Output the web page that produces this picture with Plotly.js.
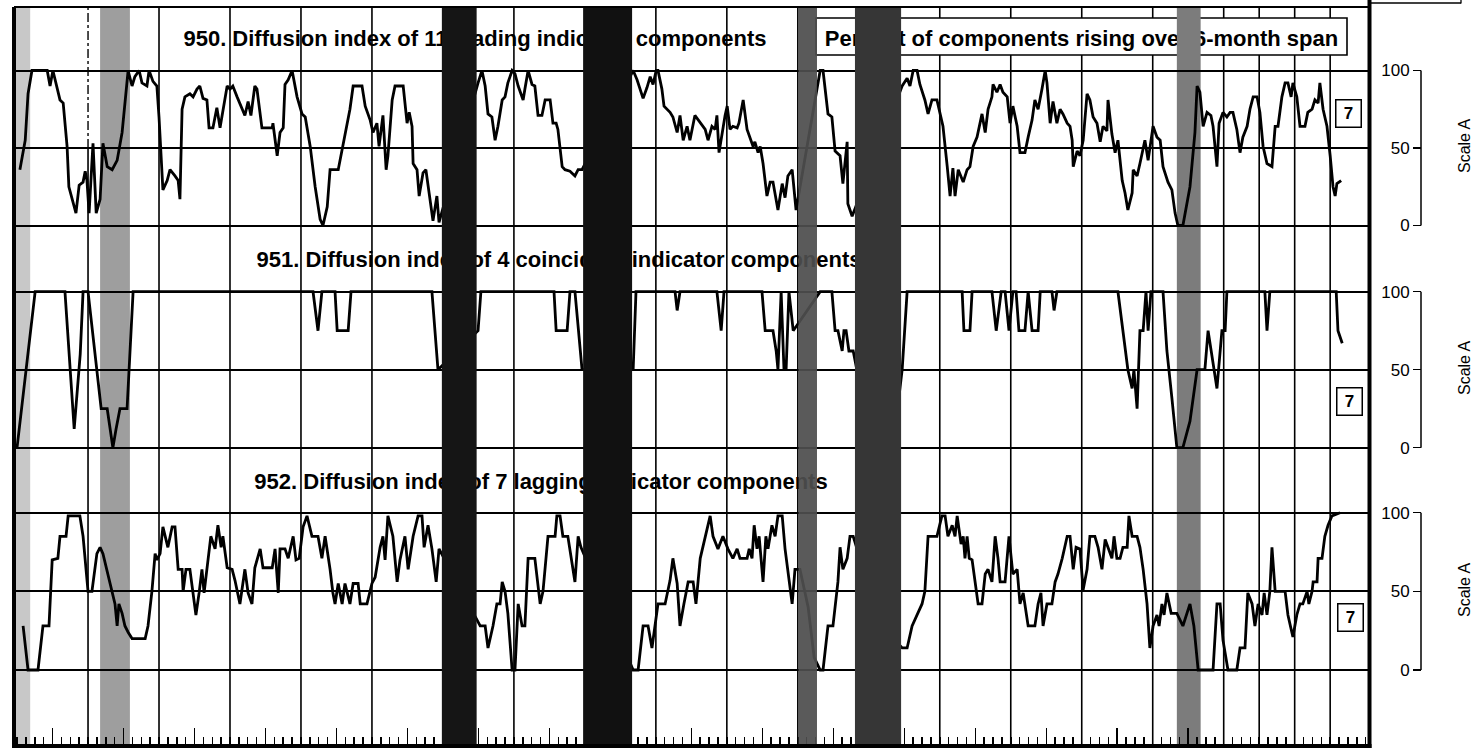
<!DOCTYPE html>
<html><head><meta charset="utf-8">
<script src="https://cdn.plot.ly/plotly-3.0.1.min.js"></script>
<style>html,body{margin:0;padding:0;background:#fff;}#chart{width:1476px;height:752px;}</style>
</head><body><div id="chart"></div>
<script>
// ---------------- DATA (x = decimal years) ----------------
const leadingYears = [
1958.08,1958.23,1958.31,1958.42,1958.85,1958.93,
1959.01,1959.13,1959.21,1959.30,1959.41,1959.46,1959.55,1959.66,1959.75,1959.86,1959.92,1959.97,
1960.03,1960.11,1960.14,1960.23,1960.34,1960.42,1960.54,1960.68,1960.82,1960.96,
1961.07,1961.13,1961.24,1961.32,1961.44,1961.52,1961.66,1961.72,1961.83,1961.94,
1962.00,1962.11,1962.23,1962.31,1962.45,1962.54,1962.59,1962.65,1962.73,1962.87,1962.96,
1963.07,1963.15,1963.24,1963.35,1963.41,1963.52,1963.63,1963.72,1963.80,1963.92,
1964.00,1964.08,1964.20,1964.34,1964.42,1964.51,1964.59,1964.70,1964.76,1964.90,
1965.05,1965.19,1965.21,1965.33,1965.41,1965.50,1965.55,1965.64,1965.75,1965.89,
1966.03,1966.12,1966.26,1966.40,1966.54,1966.62,1966.74,1966.82,
1967.05,1967.16,1967.30,1967.38,1967.47,1967.72,1967.81,1967.95,
1968.03,1968.14,1968.20,1968.31,1968.40,1968.45,1968.57,1968.65,1968.88,1968.99,
1969.05,1969.13,1969.16,1969.27,1969.33,1969.44,1969.52,1969.64,1969.72,1969.83,1969.89,
1970.99,1971.10,1971.19,1971.27,1971.38,1971.47,1971.55,1971.67,1971.75,1971.83,1971.95,
1972.03,1972.12,1972.26,1972.31,1972.40,1972.51,1972.59,1972.68,1972.79,1972.88,
1973.02,1973.10,1973.19,1973.24,1973.36,1973.44,1973.58,1973.72,1973.81,1973.92,
1975.36,1975.47,1975.56,1975.64,1975.75,1975.84,1975.92,
1976.01,1976.06,1976.17,1976.23,1976.40,1976.48,1976.60,1976.68,1976.77,1976.88,1976.96,
1977.10,1977.25,1977.39,1977.47,1977.58,1977.67,1977.72,1977.78,1977.87,1977.95,
1978.01,1978.09,1978.17,1978.29,1978.34,1978.46,1978.57,1978.65,1978.74,1978.79,1978.88,1978.94,
1979.02,1979.13,1979.22,1979.30,1979.44,1979.56,1979.64,1979.72,1979.84,1979.95,
1980.63,1980.71,1980.85,1980.96,
1981.05,1981.19,1981.27,1981.39,1981.41,1981.53,
1982.94,1983.08,1983.16,1983.25,1983.36,1983.44,1983.58,1983.67,1983.78,1983.92,
1984.01,1984.09,1984.21,1984.29,1984.37,1984.43,1984.52,1984.66,1984.77,1984.85,1984.94,
1985.05,1985.19,1985.28,1985.36,1985.47,1985.50,1985.61,1985.70,1985.78,1985.90,1985.98,
1986.06,1986.18,1986.26,1986.40,1986.49,1986.60,1986.68,1986.77,1986.88,1986.97,
1987.02,1987.11,1987.19,1987.30,1987.39,1987.47,1987.59,1987.67,1987.73,1987.76,1987.87,1987.95,
1988.04,1988.15,1988.23,1988.32,1988.43,1988.52,1988.60,1988.71,1988.74,1988.85,1988.94,
1989.02,1989.14,1989.22,1989.30,1989.42,1989.45,1989.56,1989.64,1989.78,1989.87,1989.92,
1990.01,1990.12,1990.21,1990.29,1990.43,1990.54,1990.63,1990.71,1990.85,
1991.05,1991.19,1991.25,1991.33,1991.42,1991.53,1991.64,1991.70,1991.81,1991.87,1991.98,
1992.09,1992.18,1992.26,1992.37,1992.46,1992.54,1992.66,1992.74,1992.83,1992.94,
1993.02,1993.11,1993.22,1993.36,1993.45,1993.53,1993.64,1993.73,1993.81,1993.90,1993.95,
1994.06,1994.15,1994.29,1994.37,1994.49,1994.57,1994.66,1994.71,1994.80,1994.91,
1995.00,1995.08,1995.14,1995.19,1995.31];
const leadingValues = [
36,55,85,100,100,90,
100,88,81,79,51,25,17,8,26,28,35,29,
8,40,53,8,17,53,38,36,42,60,
85,100,90,96,100,92,90,100,93,90,
70,23,29,36,32,29,17,75,83,85,83,
88,90,82,81,63,63,76,63,75,90,
88,90,83,75,71,80,71,90,88,63,
63,63,66,45,60,63,91,94,100,83,
72,70,51,25,4,0,12,36,
36,49,66,75,90,90,77,68,
60,66,51,71,36,45,81,90,90,66,
73,64,40,36,19,34,36,17,3,19,2,
92,100,90,72,70,55,64,81,83,92,100,
98,90,81,88,100,91,90,71,71,81,
81,66,66,62,38,36,35,32,36,36,
100,94,88,82,89,96,91,
100,100,88,77,73,70,60,71,55,64,55,
71,66,62,55,64,62,71,47,60,71,
77,62,64,63,66,81,62,57,51,54,47,51,
40,19,28,28,10,27,18,32,36,10,
100,100,72,70,
48,45,27,54,14,6,
90,95,90,100,100,91,81,72,81,81,
72,64,38,19,37,19,36,28,36,38,51,
57,72,60,75,83,91,86,91,86,83,66,
77,64,47,47,57,68,81,75,88,100,
92,66,80,66,75,72,66,64,55,38,48,45,
55,85,81,70,66,54,64,61,81,59,47,
55,29,21,10,21,36,32,40,55,42,51,
64,57,55,38,28,23,8,0,0,
25,60,90,86,64,73,71,64,38,66,73,
70,73,73,62,47,57,64,75,83,83,
73,51,40,38,64,64,83,92,92,83,92,
83,64,64,73,75,81,79,92,75,64,
45,25,19,27,29];

const coincidentYears = [
1958.00,1958.51,1959.35,1959.61,1959.78,1959.86,
1960.00,1960.25,1960.37,1960.54,1960.62,1960.70,1960.79,1960.90,1961.10,1961.15,1961.27,
1966.34,1966.48,1966.59,1966.96,1967.02,1967.33,1967.41,
1969.69,1969.86,1970.99,1971.07,
1973.13,1973.19,1973.50,1973.58,1973.72,1973.92,1975.36,1975.44,
1976.54,1976.60,1976.68,1977.72,1977.84,1977.92,
1978.99,1979.08,1979.30,1979.39,1979.44,1979.53,1979.61,1979.67,1979.75,1979.87,
1980.63,1980.96,1981.05,1981.13,1981.25,1981.30,1981.36,1981.44,1981.56,
1982.09,1982.68,1982.94,1983.08,1984.63,1984.68,1984.85,1984.91,
1985.47,1985.59,1985.73,1985.84,1985.95,1986.06,1986.15,1986.23,1986.40,1986.49,1986.60,1986.77,1986.83,
1987.16,1987.22,1987.30,
1989.02,1989.16,1989.30,1989.42,1989.47,1989.56,1989.64,1989.73,1989.81,1989.87,1989.95,
1990.29,1990.40,1990.54,1990.68,1990.85,1991.05,1991.25,1991.47,1991.56,1991.81,1991.95,1992.04,1992.09,
1993.16,1993.22,1993.30,1995.17,1995.22,1995.34];
const coincidentValues = [
0,100,100,12,60,100,
100,50,25,25,12,0,12,25,25,50,100,
100,75,100,100,75,75,100,
100,50,75,100,
100,75,75,100,100,50,50,100,
100,88,100,100,75,100,
100,75,75,62,50,100,50,50,100,75,
100,100,75,75,62,75,75,62,62,
0,0,50,100,100,75,75,100,
100,75,100,100,75,100,100,75,75,100,75,75,100,
100,88,100,
100,75,50,38,50,25,75,75,100,75,100,
100,62,32,0,0,17,50,50,75,38,75,75,100,
100,75,100,100,75,67];

const laggingYears = [
1958.17,1958.31,1958.59,1958.73,1958.90,1958.99,
1959.15,1959.21,1959.38,1959.44,1959.77,1959.86,
1960.00,1960.11,1960.25,1960.34,1960.42,1960.62,1960.76,1960.82,1960.87,1960.96,
1961.04,1961.13,1961.24,1961.61,1961.69,1961.80,1961.89,1961.94,
1962.03,1962.11,1962.25,1962.37,1962.45,1962.54,1962.65,1962.68,1962.76,1962.87,1962.96,
1963.04,1963.13,1963.21,1963.27,1963.35,1963.46,1963.58,1963.66,1963.75,1963.80,1963.92,
1964.06,1964.14,1964.28,1964.42,1964.51,1964.62,1964.70,1964.85,1964.93,
1965.07,1965.19,1965.27,1965.36,1965.41,1965.55,1965.64,1965.78,1965.86,1965.95,
1966.06,1966.17,1966.31,1966.48,1966.59,1966.68,1966.82,1966.90,1966.96,
1967.05,1967.16,1967.24,1967.38,1967.47,1967.61,1967.67,1967.86,
1968.00,1968.09,1968.23,1968.31,1968.37,1968.45,1968.59,1968.71,1968.79,1968.93,
1969.02,1969.16,1969.30,1969.41,1969.47,1969.58,1969.69,1969.81,1969.89,
1971.05,1971.19,1971.27,1971.41,1971.52,1971.61,1971.67,1971.75,1971.83,1971.95,
1972.03,1972.12,1972.23,1972.31,1972.40,1972.59,1972.74,1972.82,1972.96,
1973.16,1973.21,1973.30,1973.38,1973.52,1973.72,1973.81,1973.89,
1975.36,1975.50,1975.64,1975.78,1975.89,
1976.06,1976.26,1976.40,1976.48,1976.60,1976.68,1976.79,1976.91,
1977.05,1977.13,1977.25,1977.39,1977.53,1977.61,1977.75,1977.89,
1978.03,1978.17,1978.29,1978.37,1978.57,1978.63,1978.71,1978.77,1978.85,1978.91,
1979.02,1979.10,1979.16,1979.27,1979.36,1979.44,1979.56,1979.64,1979.72,1979.84,1979.92,
1980.06,1980.29,1980.46,1980.63,1980.71,1980.85,1980.99,
1981.13,1981.19,1981.27,1981.39,1981.47,1981.56,1981.75,
1982.09,1982.37,1982.65,1982.94,
1983.08,1983.22,1983.36,1983.50,1983.58,1983.67,1983.92,
1984.06,1984.15,1984.23,1984.35,1984.43,1984.49,1984.60,1984.66,1984.71,1984.77,1984.83,1984.91,1984.99,
1985.08,1985.19,1985.28,1985.36,1985.47,1985.56,1985.64,1985.70,1985.84,1985.95,
1986.06,1986.18,1986.26,1986.35,1986.49,1986.68,1986.77,1986.85,1986.91,
1987.02,1987.16,1987.25,1987.33,1987.45,1987.59,1987.67,1987.76,1987.84,1987.95,
1988.04,1988.15,1988.23,1988.37,1988.46,1988.57,1988.66,1988.74,1988.85,1988.91,1988.99,
1989.08,1989.16,1989.28,1989.33,1989.42,1989.56,1989.64,1989.73,1989.84,1989.92,
1990.01,1990.12,1990.18,1990.26,1990.32,1990.40,1990.52,1990.68,1990.85,
1991.05,1991.16,1991.28,1991.70,1991.81,1991.90,1991.98,
1992.12,1992.37,1992.46,1992.60,1992.68,1992.80,1992.88,1992.97,
1993.08,1993.14,1993.22,1993.30,1993.36,1993.45,1993.73,1993.81,1993.95,
1994.06,1994.15,1994.23,1994.35,1994.40,1994.49,1994.52,1994.63,1994.66,1994.77,1994.85,1994.94,
1995.05,1995.28];
const laggingValues = [
28,0,0,28,28,70,
71,85,85,98,98,85,
50,50,74,78,74,55,42,28,42,36,
28,24,20,20,28,50,74,70,
74,91,78,91,91,64,64,50,64,64,50,
35,49,64,49,64,85,77,92,78,85,65,
64,57,42,64,49,42,65,77,65,
65,65,77,49,77,77,71,85,70,71,
91,98,85,85,71,85,64,49,42,
55,42,55,42,55,55,42,42,
55,59,78,85,70,98,85,56,70,85,
64,85,98,98,78,92,77,56,77,
28,28,14,28,42,42,56,50,36,0,
0,42,28,28,71,71,42,50,85,
85,98,98,85,85,56,85,78,
0,0,28,28,14,
42,42,57,71,55,28,42,56,
56,42,71,85,98,85,77,85,
77,71,77,71,71,77,71,92,77,85,
56,85,77,92,85,98,98,77,64,42,64,
64,40,8,0,0,28,28,
56,78,64,71,85,85,71,
28,28,21,14,
14,28,35,42,50,85,85,
98,98,85,92,85,98,80,85,71,85,71,70,57,
42,42,61,64,56,85,71,56,56,85,
61,64,42,49,28,28,42,49,28,
42,42,56,61,71,85,85,64,78,77,
51,64,85,85,78,64,83,78,71,85,71,
71,78,78,98,85,85,78,64,42,14,
28,35,28,42,35,49,36,36,28,
42,28,0,0,42,42,19,
0,0,14,14,49,42,28,42,
35,49,35,50,78,50,50,35,21,
35,42,42,50,42,50,56,56,71,71,85,92,
98,100];

// recessions (shaded), decimal years
const recessionStart = [1957.60, 1960.34, 1969.97, 1973.95, 1980.02, 1981.61, 1990.68];
const recessionEnd   = [1958.37, 1961.18, 1970.95, 1975.33, 1980.54, 1982.91, 1991.35];

// time-axis marks
const gridYears = [1960,1962,1964,1966,1968,1970,1972,1974,1976,1978,1980,1982,1984,1986,1988,1990,1992,1993,1994,1995];
const yearTickYears = [1959,1961,1963,1965,1967,1969,1971,1973,1975,1977,1979,1981,1983,1985,1987,1989,1991];

// scale labels and texts
const scaleTickVals = [0, 50, 100];
const scaleTickText = ['0', '50', '100'];
const panelTitles = [
  '950. Diffusion index of 11 leading indicator components',
  '951. Diffusion index of 4 coincident indicator components',
  '952. Diffusion index of 7 lagging indicator components'];
const spanLabel = 'Percent of components rising over 6-month span';
const chartNumber = '7';
const scaleLabel = 'Scale A';

// ---------------- LAYOUT / STYLE ----------------
const W = 1476, H = 752;
const px = x => x / W;
const py = y => (H - y) / H;
const FRAME_L = 14, FRAME_R = 1368, FRAME_T = 7, FRAME_B = 745;
const X_RANGE = [1957.914, 1996.066];
const panelZeroPx = [225.5, 447.7, 670];
const panelHundredPx = [70.5, 291.7, 512.7];
const PAD = 2;
const titlePos = [[475, 36], [559, 257], [541, 479]];
const numberBoxPos = [[1348.5, 114], [1349.5, 402], [1350, 617]];
const scaleLabelY = [146, 368, 590];
// shading style per band: colour, drawn over the curve or not, opacity
const shadeStyle = [
  ['#c8c8c8', 'below', 1], ['#9e9e9e', 'below', 1], ['#151515', 'above', 1], ['#111111', 'above', 1],
  ['#4e4e4e', 'above', 0.93], ['#363636', 'above', 1], ['#7c7c7c', 'below', 1]];
const FONT = 'Liberation Sans, Arial, Helvetica, sans-serif';

function panelDomain(i) {
  const u = (panelZeroPx[i] - panelHundredPx[i]) / 100;
  return [py(panelZeroPx[i] + PAD * u), py(panelHundredPx[i] - PAD * u)];
}

const yNames = ['y', 'y2', 'y3'];
const series = [[leadingYears, leadingValues], [coincidentYears, coincidentValues], [laggingYears, laggingValues]];
const traces = series.map((s, i) => ({
  type: 'scatter', mode: 'lines', x: s[0], y: s[1],
  xaxis: 'x', yaxis: yNames[i],
  line: { color: '#000', width: 2.8 },
  hoverinfo: 'skip', showlegend: false
}));

const shapes = [];
// vertical year grid lines
gridYears.forEach(yr => {
  if (yr === 1960) {
    shapes.push({ type: 'line', layer: 'below', xref: 'x', yref: 'paper', x0: yr, x1: yr, y0: py(FRAME_B), y1: py(148), line: { color: '#000', width: 1.6 } });
    shapes.push({ type: 'line', layer: 'below', xref: 'x', yref: 'paper', x0: yr, x1: yr, y0: py(148), y1: py(FRAME_T), line: { color: '#000', width: 1.4, dash: 'dashdot' } });
  } else {
    shapes.push({ type: 'line', layer: 'below', xref: 'x', yref: 'paper', x0: yr, x1: yr, y0: py(FRAME_B), y1: py(FRAME_T), line: { color: '#000', width: 1.6 } });
  }
});
// panel titles (drawn below shading)
panelTitles.forEach((t, i) => {
  const [cx, cy] = titlePos[i];
  shapes.push({ type: 'rect', layer: 'below', xref: 'paper', yref: 'paper',
    x0: px(cx - 330), x1: px(cx + 330), y0: py(cy + 13), y1: py(cy - 13),
    line: { width: 0 }, fillcolor: 'rgba(0,0,0,0)',
    label: { text: '<b>' + t + '</b>', font: { family: FONT, size: 22, color: '#000' }, textposition: 'middle center' } });
});
// boxed span label
shapes.push({ type: 'rect', layer: 'below', xref: 'paper', yref: 'paper',
  x0: px(816), x1: px(1347), y0: py(55), y1: py(18),
  line: { color: '#000', width: 1.6 }, fillcolor: '#fff',
  label: { text: '<b>' + spanLabel + '</b>', font: { family: FONT, size: 22, color: '#000' }, textposition: 'middle center' } });
// recession shading
recessionStart.forEach((s, i) => {
  const st = shadeStyle[i];
  shapes.push({ type: 'rect', layer: st[1], xref: 'x', yref: 'paper',
    x0: s, x1: recessionEnd[i], y0: py(FRAME_B), y1: py(FRAME_T),
    line: { width: 0 }, fillcolor: st[0], opacity: st[2] });
});
// scale brackets
yNames.forEach(yn => {
  shapes.push({ type: 'line', layer: 'below', xref: 'paper', yref: yn, x0: px(1421), x1: px(1421), y0: 0, y1: 100, line: { color: '#000', width: 1.5 } });
});
// frame
const frameLines = [
  [FRAME_L, 748, FRAME_L, FRAME_T, 4],
  [12, 746, 1371.5, 746, 4],
  [1369.5, 748, 1369.5, 0, 4],
  [FRAME_L, FRAME_T, 1369, FRAME_T, 1.8],
  [1369, 3, 1461, 3, 1.3],
  [1461, 0, 1461, 3.5, 1.3]
];
frameLines.forEach(f => shapes.push({ type: 'line', layer: 'above', xref: 'paper', yref: 'paper',
  x0: px(f[0]), y0: py(f[1]), x1: px(f[2]), y1: py(f[3]), line: { color: '#000', width: f[4] } }));

const annotations = [];
numberBoxPos.forEach(p => annotations.push({ xref: 'paper', yref: 'paper', x: px(p[0]), y: py(p[1]),
  xanchor: 'center', yanchor: 'middle', showarrow: false, text: '<b>' + chartNumber + '</b>',
  font: { family: FONT, size: 17, color: '#000' }, bgcolor: '#fff', bordercolor: '#000', borderwidth: 1.5, borderpad: 3, width: 18, height: 20 }));
scaleLabelY.forEach(y => annotations.push({ xref: 'paper', yref: 'paper', x: px(1464), y: py(y),
  xanchor: 'center', yanchor: 'middle', showarrow: false, textangle: -90, text: scaleLabel,
  font: { family: FONT, size: 16, color: '#000' } }));

const layout = {
  width: W, height: H, margin: { l: 0, r: 0, t: 0, b: 0, pad: 0 },
  paper_bgcolor: '#fff', plot_bgcolor: 'rgba(0,0,0,0)',
  font: { family: FONT, color: '#000' }, showlegend: false,
  xaxis: {
    domain: [px(FRAME_L), px(FRAME_R)], range: X_RANGE, anchor: 'free', position: py(744),
    showgrid: false, zeroline: false, showline: false, showticklabels: false,
    tickmode: 'array', tickvals: yearTickYears, ticks: 'inside', ticklen: 16, tickwidth: 1.5, tickcolor: '#000',
    minor: { tickmode: 'linear', tick0: 1958, dtick: 0.25, ticks: 'inside', ticklen: 7, tickwidth: 1.5, tickcolor: '#000', showgrid: false },
    fixedrange: true
  },
  shapes: shapes, annotations: annotations
};
yNames.forEach((yn, i) => {
  layout[yn === 'y' ? 'yaxis' : 'yaxis' + (i + 1)] = {
    domain: panelDomain(i), range: [-PAD, 100 + PAD], anchor: 'free', position: px(1421), side: 'left',
    tickmode: 'array', tickvals: scaleTickVals, ticktext: scaleTickText,
    ticks: 'outside', ticklen: 8, tickwidth: 1.5, tickcolor: '#000',
    showline: false, showgrid: true, gridcolor: '#000', gridwidth: 2, zeroline: false,
    tickfont: { family: FONT, size: 17, color: '#000' }, fixedrange: true
  };
});

Plotly.newPlot('chart', traces, layout, { staticPlot: true, displayModeBar: false });
</script>
</body></html>
